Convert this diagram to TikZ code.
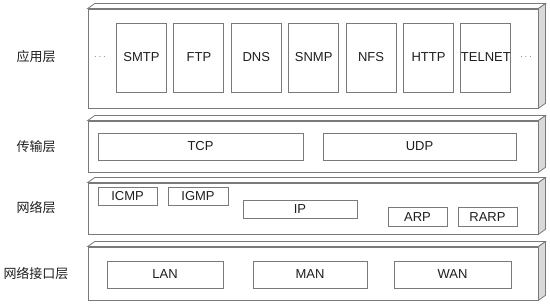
\documentclass[tikz,border=0pt]{standalone}
\usepackage{fontspec}
\setmainfont{Liberation Sans}
\newfontfamily\cjk{Noto Sans CJK SC}
\usepackage{xcolor}
\usepackage{tikz}
\usetikzlibrary{positioning, calc}
\definecolor{ink}{HTML}{1E1E1E}
\definecolor{edge}{HTML}{7A7A7A}

\begin{document}
\begin{tikzpicture}[
  x=1pt, y=-1pt,
  layer/.style={rectangle, draw=edge, line width=0.8pt, fill=white, inner sep=0pt},
  proto/.style={rectangle, draw=edge, line width=0.9pt, fill=white, inner sep=0pt, text=ink, font=\fontsize{13}{14}\selectfont},
  lbl/.style={text=ink, font=\cjk\fontsize{13}{14}\selectfont},
  more/.style={text=edge, font=\normalsize}
]
  \useasboundingbox (0,0) rectangle (550,304);

  % layers (front faces)
  \node[layer, minimum width=450pt, minimum height=99pt] (app) at (313,58.5) {};
  \node[layer, minimum width=450pt, minimum height=51pt] (trans) at (313,146.5) {};
  \node[layer, minimum width=450pt, minimum height=51pt] (net) at (313,208.5) {};
  \node[layer, minimum width=450pt, minimum height=53pt] (link) at (313,273.5) {};

  % top and right faces
  \foreach \l in {app,trans,net,link} {
    \draw[edge, line width=0.8pt, fill=white] (\l.north west) -- ++(7,-5) -- ($(\l.north east)+(7,-5)$) -- (\l.north east) -- cycle;
    \draw[edge, line width=0.8pt, fill=gray!30] (\l.north east) -- ++(7,-5) -- ($(\l.south east)+(7,-5)$) -- (\l.south east) -- cycle;
  }

  \node[lbl] (lapp) at (36,57) {应用层};
  \node[lbl] (ltrans) at (36,147) {传输层};
  \node[lbl] (lnet) at (36,208) {网络层};
  \node[lbl] (llink) at (36,274) {网络接口层};

  % application protocols
  \foreach \n/\t [count=\i from 0] in {smtp/SMTP,ftp/FTP,dns/DNS,snmp/SNMP,nfs/NFS,http/HTTP,telnet/TELNET}
    \node[proto, minimum width=50pt, minimum height=69pt] (\n) at (141.5+57.4*\i,57.5) {\t};
  \node[more] (dotsl) at (100,57) {$\cdots$};
  \node[more] (dotsr) at (526,57) {$\cdots$};

  \node[proto, minimum width=205pt, minimum height=27pt] (tcp) at (200.5,146.5) {TCP};
  \node[proto, minimum width=193pt, minimum height=27pt] (udp) at (419.5,146.5) {UDP};

  \node[proto, minimum width=59pt, minimum height=18pt] (icmp) at (127.5,196) {ICMP};
  \node[proto, minimum width=60pt, minimum height=18pt] (igmp) at (198,196) {IGMP};
  \node[proto, minimum width=114pt, minimum height=18pt] (ip) at (300,209) {IP};
  \node[proto, minimum width=59pt, minimum height=19pt] (arp) at (417.5,217) {ARP};
  \node[proto, minimum width=59pt, minimum height=19pt] (rarp) at (487.5,217) {RARP};

  \node[proto, minimum width=116pt, minimum height=27pt] (lan) at (165,274.5) {LAN};
  \node[proto, minimum width=114pt, minimum height=27pt] (man) at (310,274.5) {MAN};
  \node[proto, minimum width=117pt, minimum height=27pt] (wan) at (452.5,274.5) {WAN};
\end{tikzpicture}
\end{document}
